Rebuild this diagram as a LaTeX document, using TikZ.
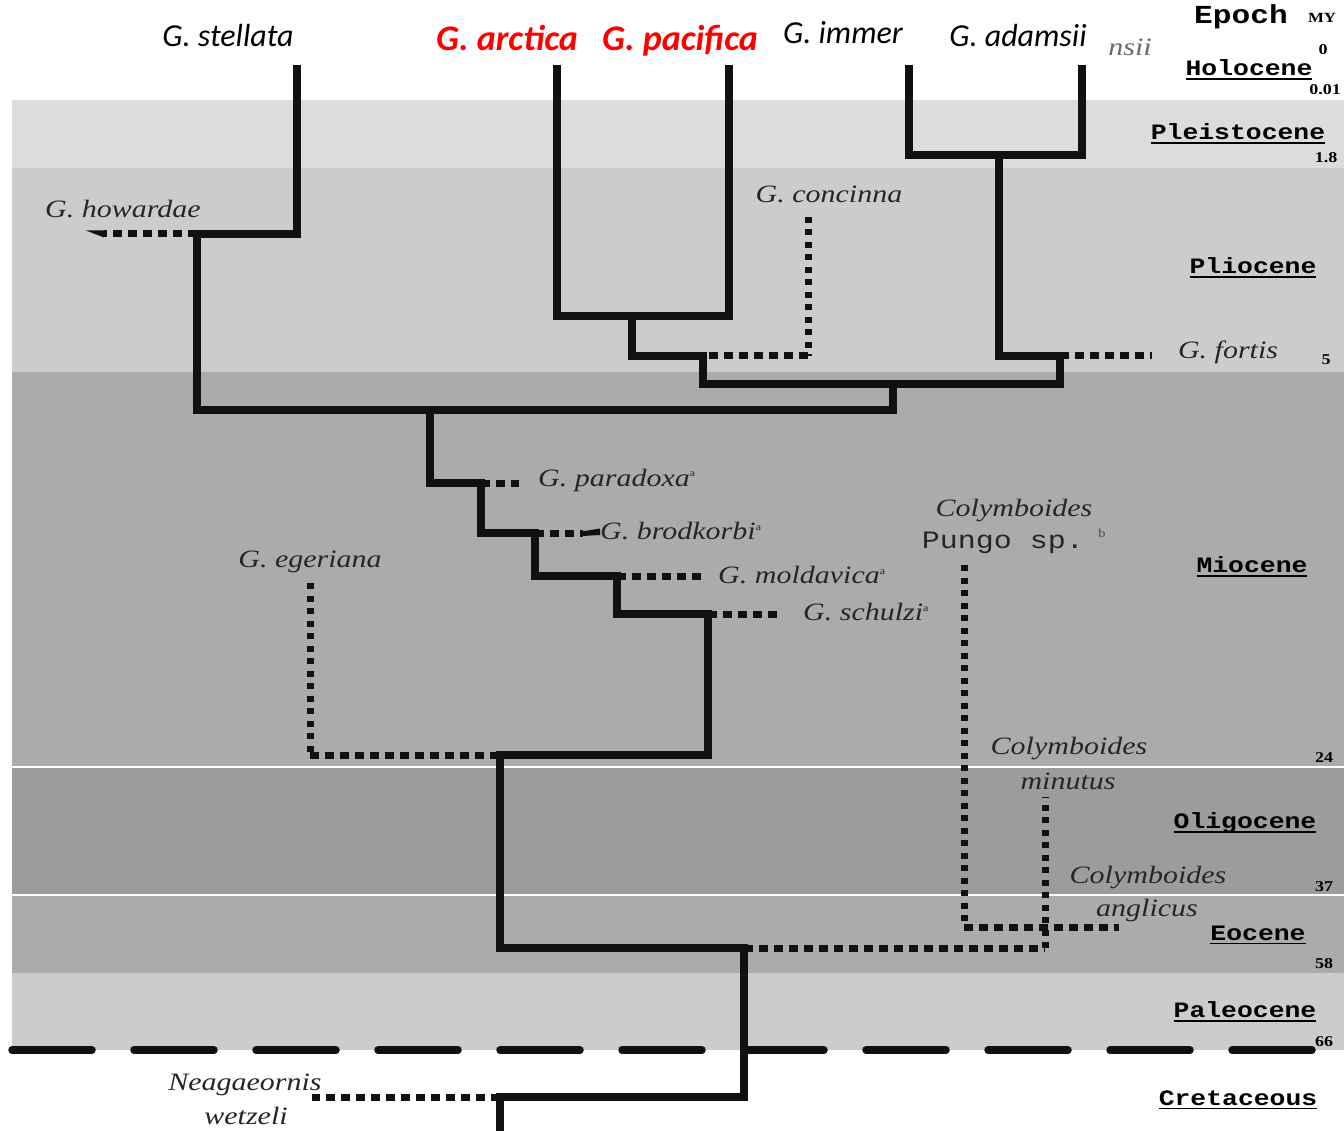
\documentclass[tikz,border=0pt]{standalone}
\usepackage{fontspec}
\setmainfont{Liberation Serif}
\newfontfamily\spfont{Liberation Serif}[FakeStretch=1.2]
\newfontfamily\epfont{Liberation Mono}[FakeStretch=1.2]
\newfontfamily\numfont{Liberation Serif}[FakeStretch=1.2]
\newfontfamily\calfont{Carlito}
\definecolor{pleist}{HTML}{DCDCDC}
\definecolor{plio}{HTML}{CCCCCC}
\definecolor{mio}{HTML}{ABABAB}
\definecolor{oligo}{HTML}{9C9C9C}
\definecolor{ink}{HTML}{111111}
\definecolor{ghost}{HTML}{6A6A6A}
\newcommand\epul[1]{\setbox0=\hbox{#1}\rlap{\rule[-4pt]{\wd0}{1.6pt}}\box0}
\newcommand\supa[1]{\textsuperscript{\fontsize{10}{10}\selectfont\upshape #1}}
\begin{document}
\begin{tikzpicture}[x=1pt,y=-1pt,
  branch/.style={line width=7.5pt, draw=ink, line join=miter},
  hdot/.style={line width=7pt, draw=ink, dash pattern=on 9pt off 6pt},
  vdot/.style={line width=7pt, draw=ink, dash pattern=on 6pt off 6.5pt},
  sp/.style={font=\spfont\itshape\fontsize{25}{27}\selectfont, text=black!85, inner sep=0pt},
  pungo/.style={font=\epfont\fontsize{25}{27}\selectfont, text=black!85, inner sep=0pt},
  toplab/.style={font=\calfont\itshape\fontsize{32}{34}\selectfont, inner sep=0pt, anchor=base},
  topred/.style={font=\calfont\bfseries\itshape\fontsize{36}{38}\selectfont, text=red, inner sep=0pt, anchor=base},
  ep/.style={font=\epfont\bfseries\fontsize{22}{24}\selectfont, inner sep=0pt},
  num/.style={font=\numfont\bfseries\fontsize{15}{16}\selectfont, inner sep=0pt},
]
\useasboundingbox (0,0) rectangle (1344,1131);
\fill[white] (0,0) rectangle (1344,1131);
% epoch bands
\fill[pleist] (12,100) rectangle (1344,168);
\fill[plio] (12,168) rectangle (1344,372);
\fill[mio] (12,372) rectangle (1344,766);
\fill[oligo] (12,767.5) rectangle (1344,894);
\fill[mio] (12,895.5) rectangle (1344,973);
\fill[plio] (12,973) rectangle (1344,1050);
% K-Pg boundary
\coordinate (kpgL) at (12,1050);
\coordinate (kpgR) at (1312,1050);
\draw[line width=7.5pt, line cap=round, dash pattern=on 80pt off 42pt, draw=ink] (kpgL) -- (kpgR);

% ---- tree coordinates
\coordinate (stel) at (297,65);
\coordinate (arct) at (557,65);
\coordinate (paci) at (729,65);
\coordinate (imme) at (909,65);
\coordinate (adam) at (1082,65);
\coordinate (howJ) at (197,234);
\coordinate (howE) at (104,234);
\coordinate (topJ) at (893,410);
\coordinate (apJ) at (632,316);
\coordinate (conJ) at (703,356);
\coordinate (conT) at (808,217);
\coordinate (iaJ) at (999,155);
\coordinate (forJ) at (1060,356);
\coordinate (forE) at (1152,356);
\coordinate (midJ) at (703,384);
\coordinate (gJ) at (430,410);
\coordinate (parJ) at (481,483);
\coordinate (parE) at (519,483);
\coordinate (broJ) at (535,533);
\coordinate (broE) at (583,533);
\coordinate (molJ) at (617,576);
\coordinate (molE) at (704,576);
\coordinate (schJ) at (708,614);
\coordinate (schE) at (778,614);
\coordinate (egJ) at (500,755);
\coordinate (egT) at (310,583);
\coordinate (colJ) at (744,948);
\coordinate (minT) at (1045,797);
\coordinate (punT) at (964,565);
\coordinate (angE) at (1119,927);
\coordinate (neoJ) at (500,1097);
\coordinate (neoE) at (312,1097);
\coordinate (root) at (500,1131);

% ---- solid branches
\draw[branch] (stel) |- (howJ) -- (197,410) -| (topJ) -- (893,384);
\draw[branch] (arct) |- (apJ) -| (paci);
\draw[branch] (apJ) |- (conJ) -- (midJ) -| (forJ) -| (iaJ);
\draw[branch] (imme) |- (iaJ) -| (adam);
\draw[branch] (gJ) |- (parJ) |- (broJ) |- (molJ) |- (schJ) -- (708,755) -- (egJ) |- (colJ) |- (neoJ) -- (root);

% ---- dotted (fossil) branches
\draw[hdot] (howJ) -- (howE);
\fill[ink] (86,230.5) -- (104,230.5) -- (104,237.5) -- cycle;
\draw[vdot] (conT) -- (808,356);
\draw[hdot] (808,356) -- (conJ);
\draw[hdot] (forJ) -- (forE);
\draw[hdot] (parJ) -- (parE);
\draw[hdot] (broJ) -- (broE);
\fill[ink] (582,531.5) -- (600,528.5) -- (600,535) -- (582,536) -- cycle;
\draw[hdot] (molJ) -- (molE);
\draw[hdot] (schJ) -- (schE);
\draw[vdot] (egT) -- (310,755);
\draw[hdot] (310,755) -- (egJ);
\draw[hdot] (colJ) -- (1045,948);
\draw[vdot] (1045,948) -- (minT);
\draw[vdot] (punT) -- (964,927);
\draw[hdot] (964,927) -- (angE);
\draw[hdot] (neoJ) -- (neoE);

% ---- top labels
\node[toplab] (lstel) at (228,47) {G. stellata};
\node[topred] (larct) at (507,51) {G. arctica};
\node[topred] (lpaci) at (680,51) {G. pacifica};
\node[toplab] (limme) at (843,44) {G. immer};
\node[toplab] (ladam) at (1018,47) {G. adamsii};
\node[sp, text=ghost] (lghost) at (1130,47) {nsii};

% ---- fossil labels
\node[sp] (lhow) at (123,209) {G. howardae};
\node[sp] (lcon) at (829,194) {G. concinna};
\node[sp] (lfor) at (1228,352) {G. fortis};
\node[sp, anchor=west] (lpar) at (538,480) {G. paradoxa\supa{a}};
\node[sp, anchor=west] (lbro) at (600,531) {G. brodkorbi\supa{a}};
\node[sp, anchor=west] (lmol) at (718,575) {G. moldavica\supa{a}};
\node[sp, anchor=west] (lsch) at (803,612) {G. schulzi\supa{a}};
\node[sp] (legr) at (310,562) {G. egeriana};
\node[sp] (lcol1) at (1014,511) {Colymboides};
\node[pungo] (lpun) at (1003,543) {Pungo sp.};
\node[font=\numfont\fontsize{12}{12}\selectfont, text=black!70, inner sep=0pt] (lpunb) at (1102,533) {b};
\node[sp] (lcol2) at (1069,749) {Colymboides};
\node[sp] (lmin) at (1068,781) {minutus};
\node[sp] (lcol3) at (1148,878) {Colymboides};
\node[sp] (lang) at (1147,910) {anglicus};
\node[sp] (lneo1) at (245,1085) {Neagaeornis};
\node[sp] (lneo2) at (246,1116) {wetzeli};

% ---- epoch column
\node[font=\epfont\bfseries\fontsize{26}{28}\selectfont, inner sep=0pt] (lepoch) at (1241,17) {Epoch};
\node[num, font=\numfont\bfseries\fontsize{14}{14}\selectfont] (lmy) at (1322,18) {MY};
\node[num] (n0) at (1323,50) {0};
\node[ep] (lhol) at (1249,70) {\epul{Holocene}};
\node[num] (n001) at (1325,90) {0.01};
\node[ep] (lple) at (1238,134) {\epul{Pleistocene}};
\node[num] (n18) at (1326,158) {1.8};
\node[ep] (lpli) at (1253,268) {\epul{Pliocene}};
\node[num] (n5) at (1326,360) {5};
\node[ep] (lmio) at (1252,567) {\epul{Miocene}};
\node[num] (n24) at (1324,758) {24};
\node[ep] (loli) at (1245,823) {\epul{Oligocene}};
\node[num] (n37) at (1324,887) {37};
\node[ep] (leoc) at (1258,935) {\epul{Eocene}};
\node[num] (n58) at (1324,964) {58};
\node[ep] (lpal) at (1245,1012) {\epul{Paleocene}};
\node[num] (n66) at (1324,1042) {66};
\node[ep] (lcre) at (1238,1100) {\epul{Cretaceous}};
\end{tikzpicture}
\end{document}
